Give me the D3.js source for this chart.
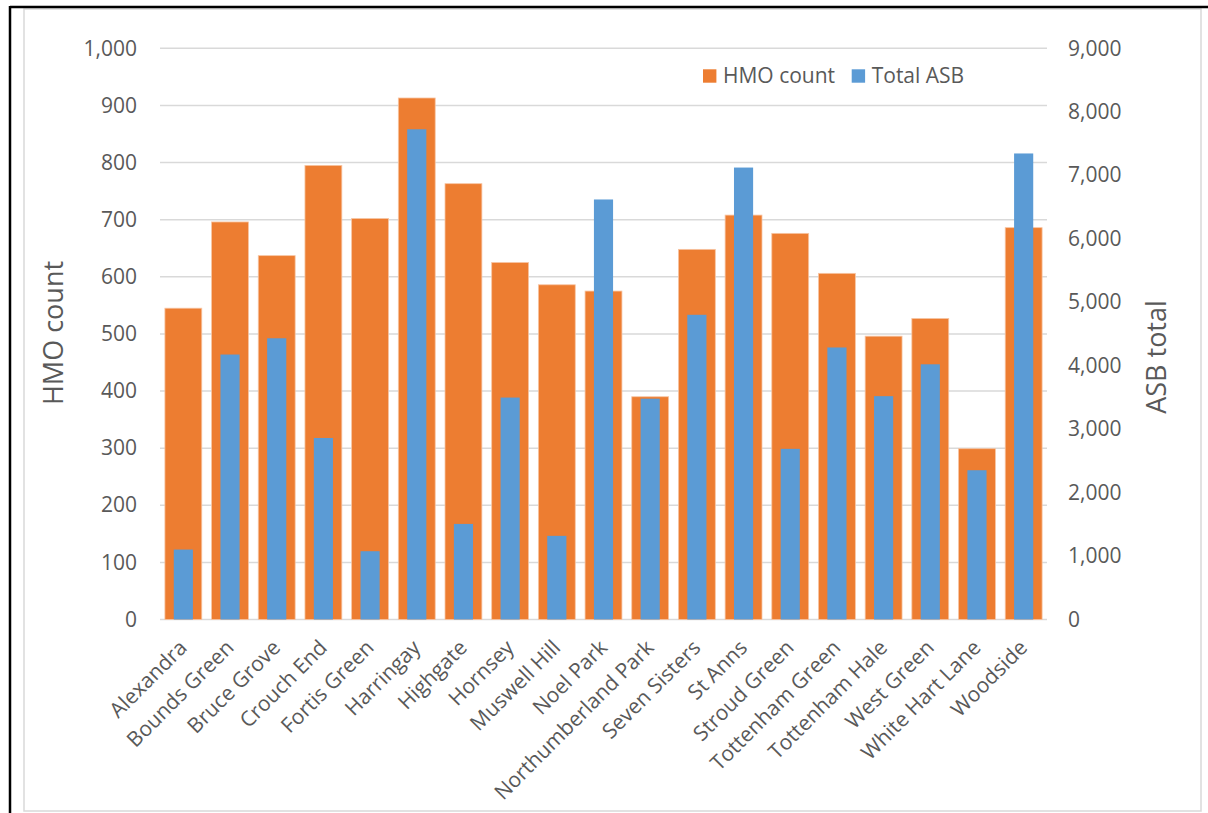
<!DOCTYPE html>
<html>
<head>
<meta charset="utf-8">
<script src="https://cdn.jsdelivr.net/npm/d3@7/dist/d3.min.js"></script>
<style>
  html, body { margin: 0; padding: 0; background: #fff; }
  svg { display: block; }
  text { font-family: "Open Sans", "Noto Sans", sans-serif; fill: #595959; }
</style>
</head>
<body>
<svg id="chart" width="1208" height="813"></svg>
<script>
// Wards of Haringey
const wards = [
  "Alexandra", "Bounds Green", "Bruce Grove", "Crouch End", "Fortis Green",
  "Harringay", "Highgate", "Hornsey", "Muswell Hill", "Noel Park",
  "Northumberland Park", "Seven Sisters", "St Anns", "Stroud Green",
  "Tottenham Green", "Tottenham Hale", "West Green", "White Hart Lane", "Woodside"
];
// Houses in multiple occupation per ward (left axis)
const hmoCount = [545, 696, 637, 795, 702, 913, 763, 625, 586, 575,
                  390, 648, 708, 676, 606, 496, 527, 299, 686];
// Anti-social behaviour incidents per ward (right axis)
const totalASB = [1102, 4175, 4431, 2860, 1076, 7724, 1506, 3497, 1318, 6618,
                  3479, 4801, 7121, 2689, 4286, 3519, 4021, 2352, 7343];
// Axis tick values
const leftTicks = [0, 100, 200, 300, 400, 500, 600, 700, 800, 900, 1000];
const rightTicks = [0, 1000, 2000, 3000, 4000, 5000, 6000, 7000, 8000, 9000];
const seriesNames = ["HMO count", "Total ASB"];
const seriesColors = ["#ED7D31", "#5B9BD5"];

const svg = d3.select("#chart");
const W = 1208, H = 813;
const plot = { left: 160, right: 1047, top: 48.3, bottom: 619.5 };
const fontSize = 21;

svg.append("rect").attr("width", W).attr("height", H).attr("fill", "#fff");

// chart frame
svg.append("rect")
  .attr("x", 24).attr("y", 9).attr("width", 1177).attr("height", 802)
  .attr("fill", "none").attr("stroke", "#d9d9d9").attr("stroke-width", 1.5);
// outer black page rule
svg.append("line").attr("x1", 10).attr("x2", 1208).attr("y1", 7).attr("y2", 7)
  .attr("stroke", "#000").attr("stroke-width", 2.5);
svg.append("line").attr("x1", 10).attr("x2", 10).attr("y1", 6).attr("y2", 813)
  .attr("stroke", "#000").attr("stroke-width", 2.5);

const x = d3.scaleBand().domain(wards).range([plot.left, plot.right]).padding(0);
const yL = d3.scaleLinear().domain([0, 1000]).range([plot.bottom, plot.top]);
const yR = d3.scaleLinear().domain([0, 9000]).range([plot.bottom, plot.top]);

const fmt = d3.format(",");

// horizontal gridlines on the left scale
svg.append("g").selectAll("line").data(leftTicks).join("line")
  .attr("x1", plot.left).attr("x2", plot.right)
  .attr("y1", d => yL(d)).attr("y2", d => yL(d))
  .attr("stroke", "#d9d9d9").attr("stroke-width", 1.5);

// left axis
const leftAxis = svg.append("g").attr("transform", `translate(${137},0)`)
  .call(d3.axisLeft(yL).tickValues(leftTicks).tickFormat(fmt).tickSize(0).tickPadding(0));
leftAxis.select(".domain").remove();
leftAxis.selectAll("text").attr("font-size", fontSize).style("fill", "#595959")
  .style("font-family", '"Open Sans", sans-serif');

// right axis
const rightAxis = svg.append("g").attr("transform", `translate(${1068},0)`)
  .call(d3.axisRight(yR).tickValues(rightTicks).tickFormat(fmt).tickSize(0).tickPadding(0));
rightAxis.select(".domain").remove();
rightAxis.selectAll("text").attr("font-size", fontSize).style("fill", "#595959")
  .style("font-family", '"Open Sans", sans-serif');

const bw = x.bandwidth();
const orangeW = bw * 0.79, blueW = bw * 0.41;

// HMO count bars
svg.append("g").selectAll("rect").data(wards).join("rect")
  .attr("x", (d) => x(d) + (bw - orangeW) / 2)
  .attr("width", orangeW)
  .attr("y", (d, i) => yL(hmoCount[i]))
  .attr("height", (d, i) => yL(0) - yL(hmoCount[i]))
  .attr("fill", seriesColors[0])
  .attr("stroke", "#f7c5a3").attr("stroke-width", 0.8);

// Total ASB bars
svg.append("g").selectAll("rect").data(wards).join("rect")
  .attr("x", (d) => x(d) + (bw - blueW) / 2)
  .attr("width", blueW)
  .attr("y", (d, i) => yR(totalASB[i]))
  .attr("height", (d, i) => yR(0) - yR(totalASB[i]))
  .attr("fill", seriesColors[1]);

// category labels
svg.append("g").selectAll("text").data(wards).join("text")
  .attr("transform", d => `translate(${x(d) + bw / 2 + 5},${649}) rotate(-45)`)
  .attr("text-anchor", "end")
  .attr("font-size", fontSize)
  .text(d => d);

// axis titles
svg.append("text")
  .attr("transform", `translate(${63},${333}) rotate(-90)`)
  .attr("text-anchor", "middle")
  .attr("font-size", 27)
  .text("HMO count");
svg.append("text")
  .attr("transform", `translate(${1166},${357}) rotate(-90)`)
  .attr("text-anchor", "middle")
  .attr("font-size", 27)
  .text("ASB total");

// legend
const legendX = [703, 851.7];
const legend = svg.append("g");
seriesNames.forEach((name, i) => {
  legend.append("rect")
    .attr("x", legendX[i]).attr("y", 69.3).attr("width", 13.4).attr("height", 13.4)
    .attr("fill", seriesColors[i]);
  legend.append("text")
    .attr("x", legendX[i] + 20).attr("y", 82.5)
    .attr("font-size", fontSize)
    .text(name);
});
</script>
</body>
</html>
